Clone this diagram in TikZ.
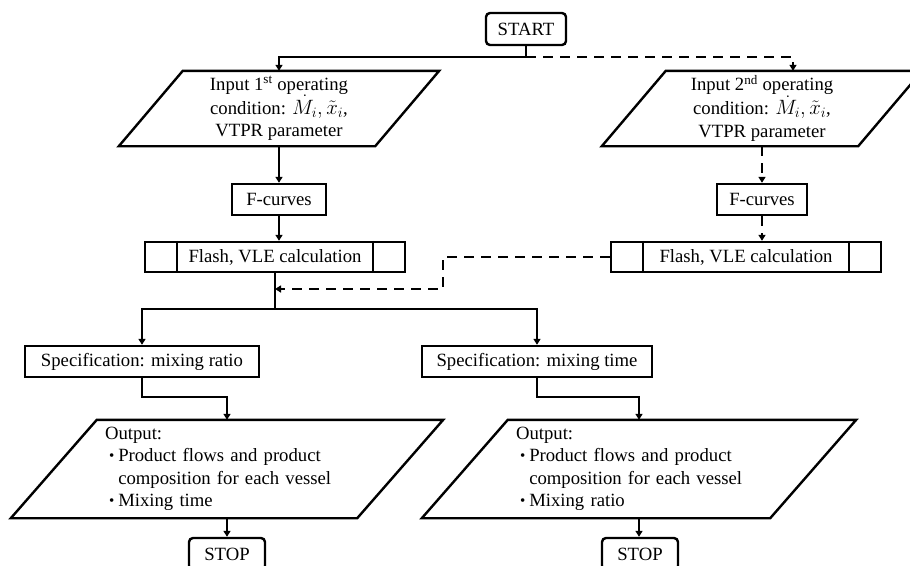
\documentclass[tikz,border=0pt]{standalone}
\usepackage{fontspec}
\setmainfont{Liberation Serif}
\usetikzlibrary{arrows.meta,calc}

% slanted frame drawn around a named (invisible) node
\newcommand\slantframe[2]{%
  \draw[frame] ([xshift=#2]#1.north west) -- ([xshift=#2]#1.north east)
    -- ([xshift=-#2]#1.south east) -- ([xshift=-#2]#1.south west) -- cycle;}
% side bars of a predefined-process box
\newcommand\sidebars[2]{%
  \draw[frame] ([xshift=#2]#1.north west) -- ([xshift=#2]#1.south west);
  \draw[frame] ([xshift=-#2]#1.north east) -- ([xshift=-#2]#1.south east);}
% bullet and symbols of the flow chart text
\newcommand\itembullet{\hspace*{4pt}\raisebox{1.5pt}{\fontsize{15}{15}\selectfont\textbullet}\hspace{4pt}}
\newcommand\itemskip{\hspace*{4pt}\hphantom{\raisebox{1.5pt}{\fontsize{15}{15}\selectfont\textbullet}}\hspace{4pt}}
\newcommand\flowvars{{\fontsize{21}{22.5}\selectfont$\dot{M}_i, \tilde{x}_i$}}

\begin{document}
\begin{tikzpicture}[x=1pt,y=-1pt,
  every node/.style={font=\fontsize{18.7}{22.5}\selectfont},
  frame/.style={line width=2.4pt, line join=miter},
  box/.style={draw, line width=2.4pt, minimum height=31pt, inner sep=0pt},
  term/.style={box, rounded corners=4pt, minimum height=32pt},
  io/.style={inner sep=0pt, align=center},
  outbox/.style={inner sep=0pt, minimum height=98pt, align=left},
  line/.style={line width=2pt, -{Triangle[length=6pt,width=7pt]}},
  plain/.style={line width=2pt},
  dline/.style={line width=2pt, dash pattern=on 9.5pt off 7.5pt, -{Triangle[length=6pt,width=7pt]}}
]
\useasboundingbox (0,0) rectangle (910,565);
\clip (0,0) rectangle (910,565);
\fill[white] (0,0) rectangle (910,565);

% terminals
\node[term, minimum width=80pt] (start) at (526,29) {START};
\node[term, minimum width=76pt] (stop1) at (227,554) {STOP};
\node[term, minimum width=76pt] (stop2) at (640,554) {STOP};

% input blocks
\node[io, minimum width=256pt, minimum height=75pt] (in1) at (279,108.5)
  {Input 1\textsuperscript{st} operating\\condition: \flowvars,\\VTPR parameter};
\slantframe{in1}{32pt}
\node[io, minimum width=256pt, minimum height=75pt] (in2) at (762,108.5)
  {Input 2\textsuperscript{nd} operating\\condition: \flowvars,\\VTPR parameter};
\slantframe{in2}{32pt}

% F-curves
\node[box, minimum width=94pt] (f1) at (279,199.5) {F-curves};
\node[box, minimum width=90pt] (f2) at (762,199.5) {F-curves};

% flash calculations
\node[box, minimum width=260pt, minimum height=30pt] (fl1) at (275,257) {Flash, VLE calculation};
\sidebars{fl1}{33pt}
\node[box, minimum width=270pt, minimum height=30pt] (fl2) at (746,257) {Flash, VLE calculation};
\sidebars{fl2}{33pt}

% specifications
\node[box, minimum width=234pt] (sp1) at (142,361.5) {Specification: mixing ratio};
\node[box, minimum width=230pt] (sp2) at (537,361.5) {Specification: mixing time};

% outputs
\node[outbox, minimum width=346pt, text width=244pt, inner xsep=51pt] (out1) at (227,469)
  {Output:\\
   \itembullet Product flows and product\\
   \itemskip composition for each vessel\\
   \itembullet Mixing time};
\slantframe{out1}{43pt}
\node[outbox, minimum width=348pt, text width=246pt, inner xsep=51pt] (out2) at (639,469)
  {Output:\\
   \itembullet Product flows and product\\
   \itemskip composition for each vessel\\
   \itembullet Mixing ratio};
\slantframe{out2}{43pt}

% junction points
\coordinate (fork) at (526,57);
\coordinate (merge) at (275,289);
\coordinate (bend) at (443,289);
\coordinate (split) at (275,309);
\coordinate (drop1) at (142,397);
\coordinate (drop2) at (537,397);

% connectors
\draw[plain] (start.south) -- (fork);
\draw[line] (fork) -| (in1.north);
\draw[dline] (fork) -| ([xshift=31pt]in2.north);
\draw[line] (in1.south) -- (f1.north);
\draw[line] (f1.south) -- (f1.south |- fl1.north);
\draw[dline] (in2.south) -- (in2.south |- f2.north);
\draw[dline] (f2.south) -- (f2.south |- fl2.north);
\draw[dline] (fl2.west) -| (bend) -- (merge);
\draw[plain] (fl1.south) -- (split);
\draw[line] (split) -| (sp1.north);
\draw[line] (split) -| (sp2.north);
\draw[line] (sp1.south) -- (drop1) -| (out1.north);
\draw[line] (sp2.south) -- (drop2) -| (out2.north);
\draw[line] (out1.south) -- (out1.south |- stop1.north);
\draw[line] (out2.south) -- (out2.south |- stop2.north);
\end{tikzpicture}
\end{document}
